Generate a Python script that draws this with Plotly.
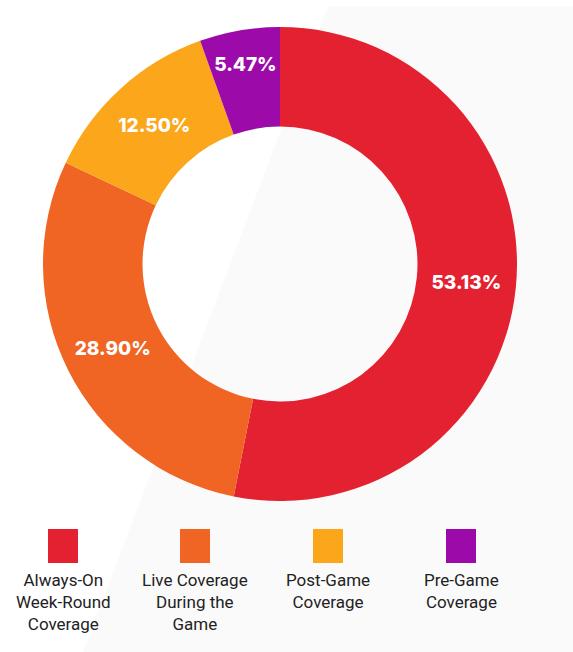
import plotly.graph_objects as go

# Share of coverage by timing
categories = [
    "Always-On<br>Week-Round<br>Coverage",
    "Live Coverage<br>During the<br>Game",
    "Post-Game<br>Coverage",
    "Pre-Game<br>Coverage",
]
shares = [53.13, 28.90, 12.50, 5.47]
colors = ["#E42131", "#F06524", "#FBA61B", "#9C0AAA"]

W, H = 573, 652

fig = go.Figure()

fig.add_trace(go.Pie(
    labels=categories,
    values=shares,
    hole=0.58,
    sort=False,
    direction="clockwise",
    rotation=0,
    marker=dict(colors=colors, line=dict(width=0)),
    texttemplate="%{value:.2f}%",
    textposition="inside",
    insidetextorientation="horizontal",
    textfont=dict(family="Inter", size=19, color="white", weight=800),
    hoverinfo="label+percent",
    showlegend=False,
    domain=dict(x=[43 / W, 517 / W], y=[1 - 501 / H, 1 - 27 / H]),
))

# light diagonal panel behind the chart
fig.add_shape(
    type="path",
    xref="paper", yref="paper",
    path=f"M {328 / W},{1 - 6 / H} L 1,{1 - 6 / H} L 1,0 L {83 / W},0 Z",
    fillcolor="#FAFAFA", line=dict(width=0), layer="below",
)

# custom legend: colour swatch above a centred multi-line caption
centers = [63, 195, 328, 461]
for cx, name, col in zip(centers, categories, colors):
    fig.add_shape(
        type="rect", xref="paper", yref="paper",
        x0=(cx - 15) / W, x1=(cx + 15) / W,
        y0=1 - 563 / H, y1=1 - 529 / H,
        fillcolor=col, line=dict(width=0),
    )
    fig.add_annotation(
        xref="paper", yref="paper",
        x=cx / W, y=1 - 568 / H,
        text=name, showarrow=False, align="center",
        xanchor="center", yanchor="top",
        font=dict(family="Roboto", size=17, color="#222222"),
    )

fig.update_layout(
    width=W, height=H,
    margin=dict(l=0, r=0, t=0, b=0),
    paper_bgcolor="white",
    plot_bgcolor="white",
)

fig.write_html("out.html")
